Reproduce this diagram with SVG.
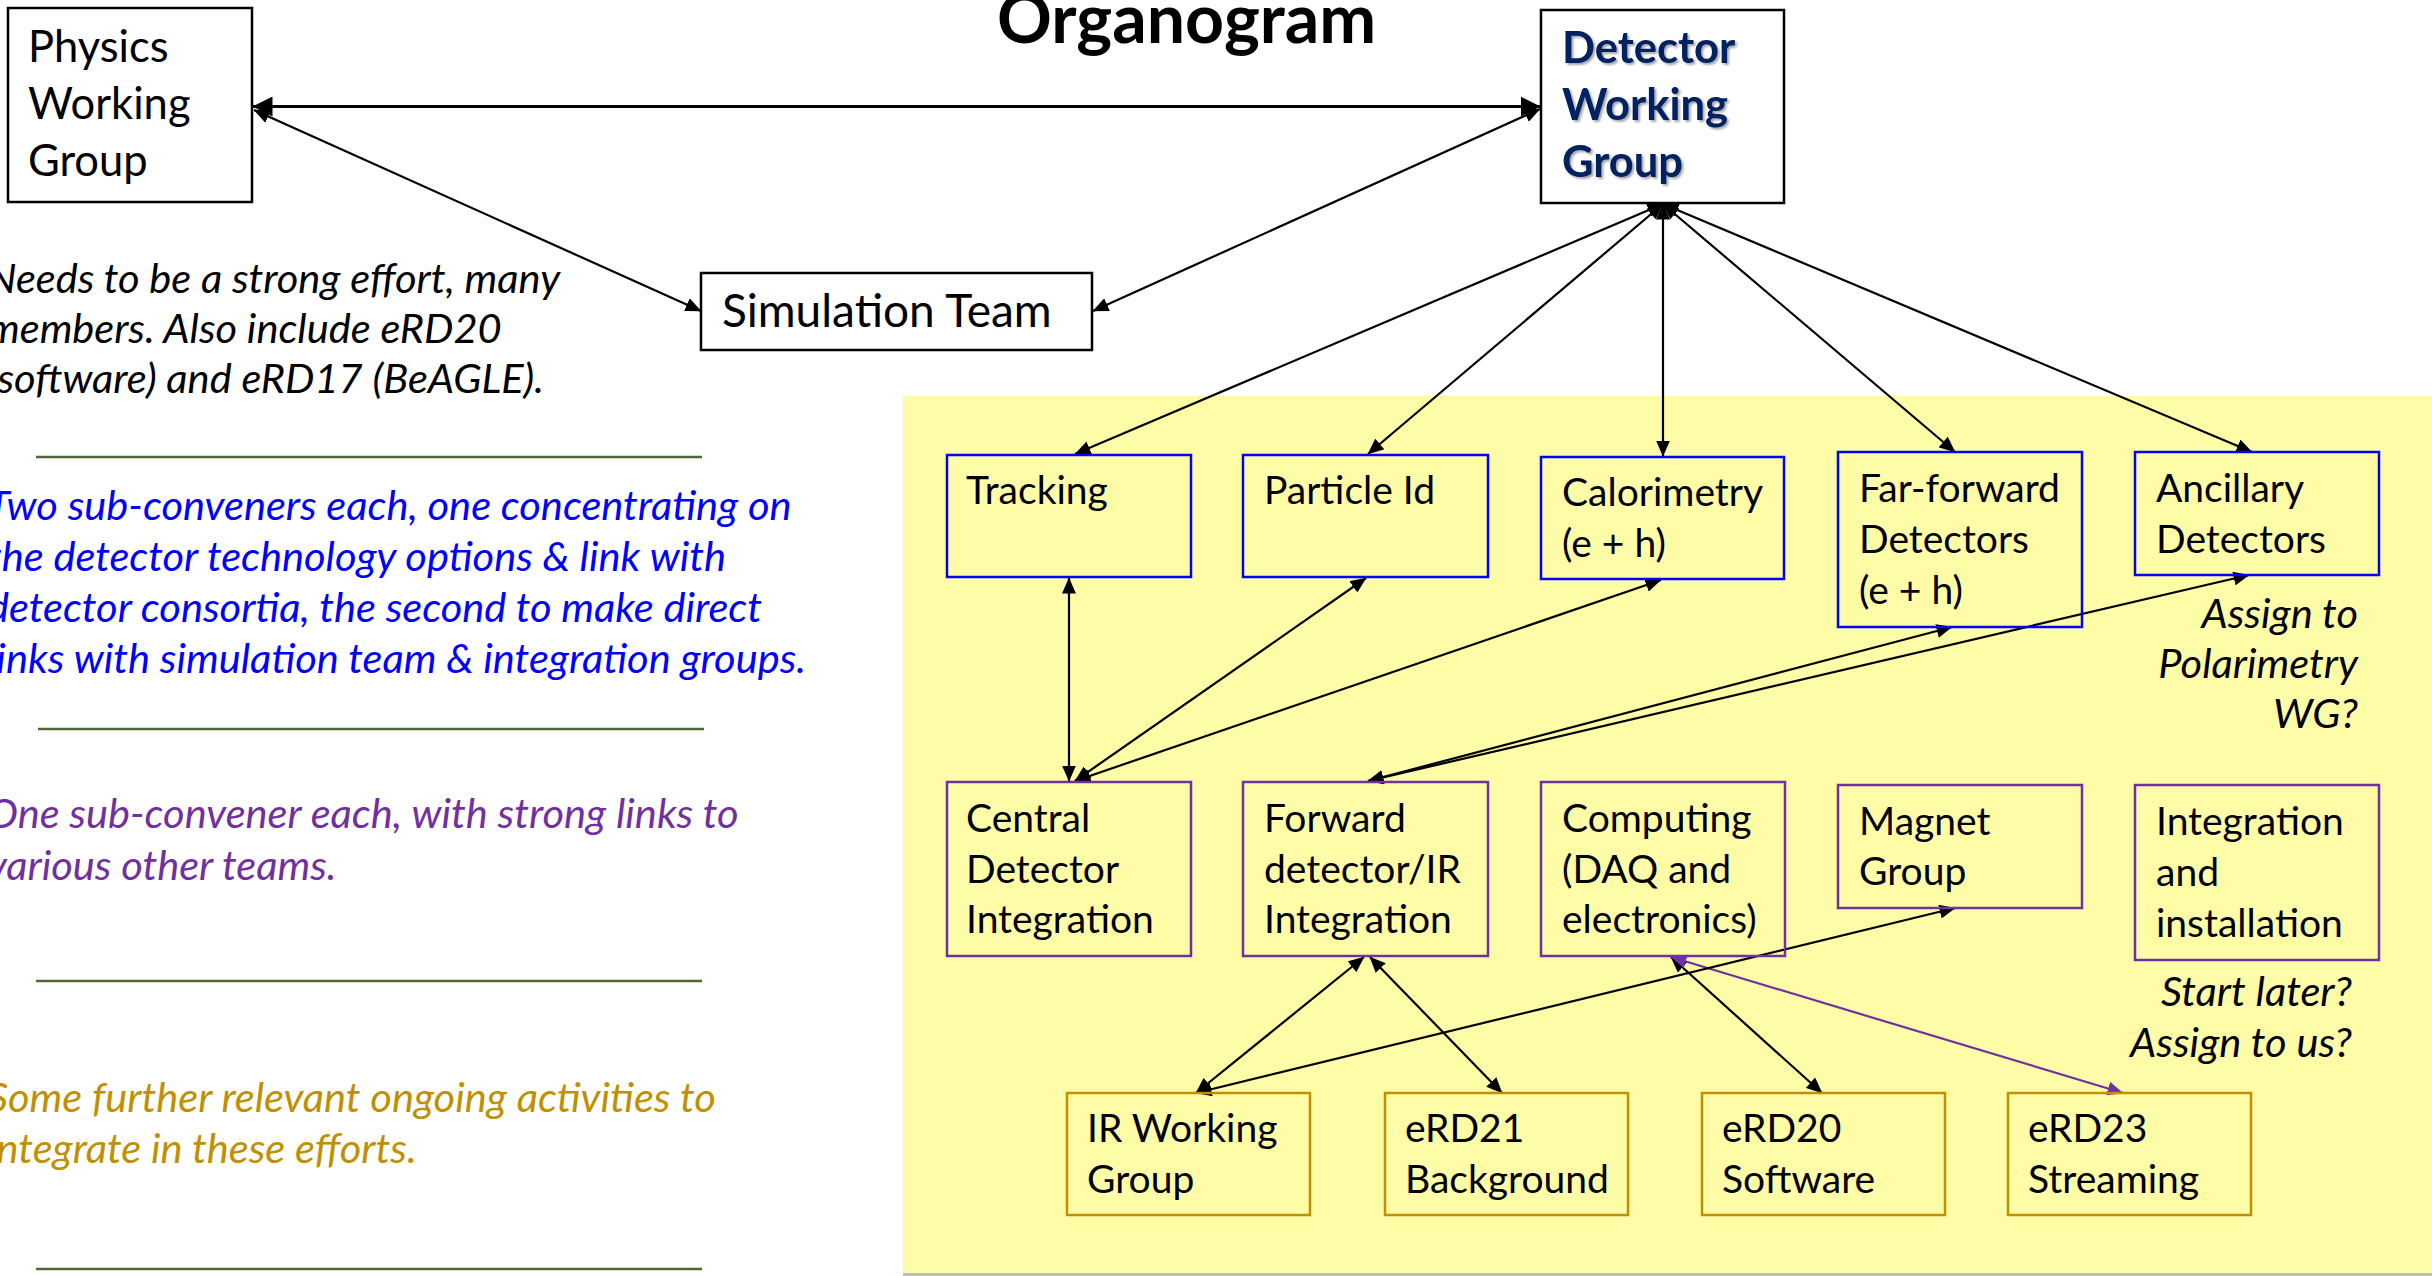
<svg xmlns="http://www.w3.org/2000/svg" width="2432" height="1276" viewBox="0 0 2432 1276">
<defs>
<style>
.box{fill:#fff;stroke:#000;stroke-width:2.5}
.bt{fill:none;stroke:#0000FF;stroke-width:2.5}
.bm{fill:none;stroke:#7030A0;stroke-width:2.5}
.bb{fill:none;stroke:#BF9000;stroke-width:2.5}
.t{font-family:Lato,"Liberation Sans",sans-serif;font-size:39px;fill:#000}
.tl{font-family:Lato,"Liberation Sans",sans-serif;font-size:43.5px;fill:#000}
.ts{font-family:Lato,"Liberation Sans",sans-serif;font-size:46px;fill:#000}
.dt{font-family:Lato,"Liberation Sans",sans-serif;font-size:43.5px;font-weight:bold;fill:#002060}
.it{font-family:Lato,"Liberation Sans",sans-serif;font-size:41.6px;font-style:italic}
.c{fill:none;stroke:#000;stroke-width:2.2;marker-start:url(#ah);marker-end:url(#ah)}
.cp{fill:none;stroke:#7030A0;stroke-width:2.2;marker-start:url(#ap);marker-end:url(#ap)}
.gl{stroke:#4B6A36;stroke-width:2.5}
</style>
<marker id="ah" viewBox="0 0 16 14" refX="15.5" refY="7" markerWidth="16" markerHeight="14" markerUnits="userSpaceOnUse" orient="auto-start-reverse"><path d="M0,0 L16,7 L0,14 z" fill="#000"/></marker>
<marker id="ap" viewBox="0 0 16 14" refX="15.5" refY="7" markerWidth="16" markerHeight="14" markerUnits="userSpaceOnUse" orient="auto-start-reverse"><path d="M0,0 L16,7 L0,14 z" fill="#7030A0"/></marker>
<marker id="aL" viewBox="0 0 20 20" refX="19.5" refY="10" markerWidth="20" markerHeight="20" markerUnits="userSpaceOnUse" orient="auto-start-reverse"><path d="M0,0 L20,10 L0,20 z" fill="#000"/></marker>
<filter id="sh" x="-10%" y="-10%" width="130%" height="140%"><feDropShadow dx="2" dy="2" stdDeviation="1.2" flood-color="#000" flood-opacity="0.35"/></filter>
</defs>
<rect x="0" y="0" width="2432" height="1276" fill="#fff"/>

<g id="panel">
<rect x="903" y="396" width="1529" height="877" fill="#FFFCA8"/>
<rect x="903" y="1273" width="1529" height="3" fill="#BDBDBD"/>
</g>

<g id="title"><text x="997" y="43" font-family="Lato,'Liberation Sans',sans-serif" font-size="68" font-weight="bold" fill="#000">Organogram</text></g>

<g id="notes">
<text class="it" fill="#000"><tspan x="-13" y="293">Needs to be a strong effort, many</tspan><tspan x="-13" y="343">members. Also include eRD20</tspan><tspan x="-13" y="393">(software) and eRD17 (BeAGLE).</tspan></text>
<line class="gl" x1="36" y1="457" x2="702" y2="457"/>
<text class="it" fill="#0000FF"><tspan x="-13" y="520">Two sub-conveners each, one concentrating on</tspan><tspan x="-13" y="571">the detector technology options &amp; link with</tspan><tspan x="-13" y="622">detector consortia, the second to make direct</tspan><tspan x="-13" y="673">links with simulation team &amp; integration groups.</tspan></text>
<line class="gl" x1="38" y1="729" x2="704" y2="729"/>
<text class="it" fill="#7030A0"><tspan x="-13" y="828">One sub-convener each, with strong links to</tspan><tspan x="-13" y="880">various other teams.</tspan></text>
<line class="gl" x1="36" y1="981" x2="702" y2="981"/>
<text class="it" fill="#BF9000"><tspan x="-13" y="1112">Some further relevant ongoing activities to</tspan><tspan x="-13" y="1163">integrate in these efforts.</tspan></text>
<line class="gl" x1="36" y1="1269" x2="702" y2="1269"/>
<text class="it" fill="#000" text-anchor="end"><tspan x="2358" y="628">Assign to</tspan><tspan x="2358" y="678">Polarimetry</tspan><tspan x="2358" y="728">WG?</tspan></text>
<text class="it" fill="#000" text-anchor="end"><tspan x="2352" y="1006">Start later?</tspan><tspan x="2352" y="1057">Assign to us?</tspan></text>
</g>

<g id="connectors">
<line x1="253" y1="106.5" x2="1540" y2="106.5" fill="none" stroke="#000" stroke-width="3" marker-start="url(#aL)" marker-end="url(#aL)"/>
<line class="c" x1="254" y1="110" x2="701" y2="311"/>
<line class="c" x1="1093" y1="311" x2="1540" y2="109"/>
<line class="c" x1="1663" y1="204" x2="1075" y2="454"/>
<line class="c" x1="1663" y1="204" x2="1368" y2="454"/>
<line class="c" x1="1663" y1="204" x2="1663" y2="456"/>
<line class="c" x1="1663" y1="204" x2="1955" y2="452"/>
<line class="c" x1="1663" y1="204" x2="2252" y2="452"/>
<line class="c" x1="1069" y1="578" x2="1069" y2="781"/>
<line class="c" x1="1366" y1="578" x2="1075" y2="781"/>
<line class="c" x1="1661" y1="580" x2="1075" y2="781"/>
<line class="c" x1="1368" y1="781" x2="1952" y2="627"/>
<line class="c" x1="1368" y1="781" x2="2249" y2="575"/>
<line class="c" x1="1364" y1="957" x2="1196" y2="1093"/>
<line class="c" x1="1370" y1="957" x2="1502" y2="1093"/>
<line class="c" x1="1671" y1="957" x2="1822" y2="1093"/>
<line class="cp" x1="1671" y1="957" x2="2123" y2="1093"/>
<line class="c" x1="1196" y1="1093" x2="1955" y2="908"/>
</g>

<g id="physics"><rect class="box" x="8" y="8" width="244" height="194"/><text class="tl"><tspan x="28" y="62">Physics</tspan><tspan x="28" y="119">Working</tspan><tspan x="28" y="176">Group</tspan></text></g>
<g id="simulation"><rect class="box" x="701" y="273" width="391" height="77"/><text class="ts" x="722" y="327">Simulation Team</text></g>
<g id="detector"><rect class="box" x="1541" y="10" width="243" height="193"/><text class="dt" filter="url(#sh)"><tspan x="1562" y="63">Detector</tspan><tspan x="1562" y="120">Working</tspan><tspan x="1562" y="177">Group</tspan></text></g>

<g id="tracking"><rect class="bt" x="947" y="455" width="244" height="122"/><text class="t" x="966" y="504">Tracking</text></g>
<g id="pid"><rect class="bt" x="1243" y="455" width="245" height="122"/><text class="t" x="1264" y="504">Particle Id</text></g>
<g id="calorimetry"><rect class="bt" x="1541" y="457" width="243" height="122"/><text class="t"><tspan x="1562" y="506">Calorimetry</tspan><tspan x="1562" y="557">(e + h)</tspan></text></g>
<g id="farforward"><rect class="bt" x="1838" y="452" width="244" height="175"/><text class="t"><tspan x="1859" y="502">Far-forward</tspan><tspan x="1859" y="553">Detectors</tspan><tspan x="1859" y="604">(e + h)</tspan></text></g>
<g id="ancillary"><rect class="bt" x="2135" y="452" width="244" height="123"/><text class="t"><tspan x="2156" y="502">Ancillary</tspan><tspan x="2156" y="553">Detectors</tspan></text></g>

<g id="central"><rect class="bm" x="947" y="782" width="244" height="174"/><text class="t"><tspan x="966" y="832">Central</tspan><tspan x="966" y="883">Detector</tspan><tspan x="966" y="933">Integration</tspan></text></g>
<g id="forward"><rect class="bm" x="1243" y="782" width="245" height="174"/><text class="t"><tspan x="1264" y="832">Forward</tspan><tspan x="1264" y="883">detector/IR</tspan><tspan x="1264" y="933">Integration</tspan></text></g>
<g id="computing"><rect class="bm" x="1541" y="782" width="244" height="174"/><text class="t"><tspan x="1562" y="832">Computing</tspan><tspan x="1562" y="883">(DAQ and</tspan><tspan x="1562" y="933">electronics)</tspan></text></g>
<g id="magnet"><rect class="bm" x="1838" y="785" width="244" height="123"/><text class="t"><tspan x="1859" y="835">Magnet</tspan><tspan x="1859" y="885">Group</tspan></text></g>
<g id="integration"><rect class="bm" x="2135" y="785" width="244" height="175"/><text class="t"><tspan x="2156" y="835">Integration</tspan><tspan x="2156" y="886">and</tspan><tspan x="2156" y="937">installation</tspan></text></g>

<g id="irwg"><rect class="bb" x="1067" y="1093" width="243" height="122"/><text class="t"><tspan x="1087" y="1142">IR Working</tspan><tspan x="1087" y="1193">Group</tspan></text></g>
<g id="erd21"><rect class="bb" x="1385" y="1093" width="243" height="122"/><text class="t"><tspan x="1405" y="1142">eRD21</tspan><tspan x="1405" y="1193">Background</tspan></text></g>
<g id="erd20"><rect class="bb" x="1702" y="1093" width="243" height="122"/><text class="t"><tspan x="1722" y="1142">eRD20</tspan><tspan x="1722" y="1193">Software</tspan></text></g>
<g id="erd23"><rect class="bb" x="2008" y="1093" width="243" height="122"/><text class="t"><tspan x="2028" y="1142">eRD23</tspan><tspan x="2028" y="1193">Streaming</tspan></text></g>
</svg>
